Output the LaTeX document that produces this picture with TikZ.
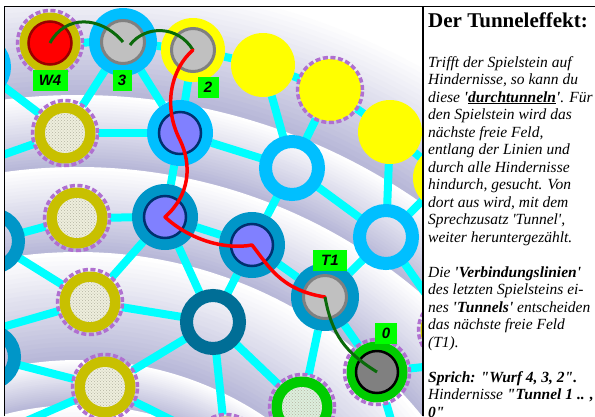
\documentclass[tikz,border=0pt]{standalone}
\usepackage{fontspec}
\setmainfont{Liberation Serif}[Ligatures=TeXOff]
\newfontfamily\labfont{Liberation Sans}
\usetikzlibrary{patterns}
\pgfdeclarelayer{back}
\pgfdeclarelayer{links}
\pgfsetlayers{back,links,main}
\definecolor{olivef}{HTML}{C8C000}
\definecolor{dashp}{HTML}{B070D0}
\definecolor{skyb}{HTML}{00BFFF}
\definecolor{midb}{HTML}{0096C8}
\definecolor{darkb}{HTML}{006E96}
\definecolor{linkc}{HTML}{00FFFF}
\definecolor{pieceg}{HTML}{C0C0C0}
\definecolor{greyb}{HTML}{808080}
\definecolor{pieceb}{HTML}{8080FF}
\definecolor{navyb}{HTML}{003070}
\definecolor{greenf}{HTML}{00CC00}
\definecolor{labg}{HTML}{00FF00}
\definecolor{pathg}{HTML}{0A6A0A}
\definecolor{lav}{HTML}{B8B8D8}
\definecolor{yel}{HTML}{FFFF00}
\definecolor{redc}{HTML}{FF0000}
\definecolor{darkredc}{HTML}{990000}
\definecolor{stipO}{HTML}{EEEEDD}
\definecolor{stipG}{HTML}{DDEEDD}
\definecolor{stipdot}{HTML}{B4B4A0}
\tikzset{
  stone/.style={circle, inner sep=0pt, outer sep=0pt},
  dashring/.style={stone, minimum size=65pt, draw=dashp, line width=3.5pt, dash pattern=on 5pt off 2.6pt},
  olivestip/.style={dashring, path picture={
     \fill[olivef] (path picture bounding box.center) circle (30.5pt);
     \fill[stipO] (path picture bounding box.center) circle (20pt);
     \fill[pattern=crosshatch dots, pattern color=stipdot] (path picture bounding box.center) circle (20pt);}},
  greenstip/.style={dashring, path picture={
     \fill[greenf] (path picture bounding box.center) circle (30.5pt);
     \fill[stipG] (path picture bounding box.center) circle (20pt);
     \fill[pattern=crosshatch dots, pattern color=stipdot] (path picture bounding box.center) circle (20pt);}},
  redstone/.style={dashring, path picture={
     \fill[olivef] (path picture bounding box.center) circle (30.5pt);
     \filldraw[fill=redc, draw=darkredc, solid, line width=2.5pt] (path picture bounding box.center) circle (21.5pt);}},
  zerostone/.style={dashring, path picture={
     \fill[greenf] (path picture bounding box.center) circle (30.5pt);
     \filldraw[fill=greyb, draw=black, solid, line width=2.5pt] (path picture bounding box.center) circle (21pt);}},
  yeldash/.style={dashring, path picture={
     \fill[yel] (path picture bounding box.center) circle (31pt);}},
  yelstone/.style={stone, minimum size=64pt, fill=yel},
  greystone/.style={stone, minimum size=68pt, fill=#1, path picture={
     \filldraw[fill=pieceg, draw=greyb, line width=3pt] (path picture bounding box.center) circle (21.5pt);}},
  purplestone/.style={stone, minimum size=66pt, fill=#1, path picture={
     \filldraw[fill=pieceb, draw=navyb, line width=2.5pt] (path picture bounding box.center) circle (21pt);}},
  hollow/.style={stone, minimum size=53pt, draw=#1, line width=13pt},
  link/.style={draw=linkc, line width=8pt},
  redpath/.style={draw=redc, line width=3.5pt, line cap=round, line join=round},
  greenpath/.style={draw=pathg, line width=3pt},
  lab/.style={fill=labg, text=black, inner sep=0pt, minimum height=21pt,
     font=\labfont\fontsize{15}{16}\selectfont\bfseries\itshape},
}
\begin{document}
\begin{tikzpicture}[x=1pt,y=-1pt]
\useasboundingbox (0,0) rectangle (595,416);
% background bands
\begin{pgfonlayer}{back}
\fill[white] (0,0) rectangle (595,416);
\begin{scope}
\clip (5,7) rectangle (423,416);
\foreach \Ro/\Ri in {720/600,600/528,528/443,443/335,335/290,290/200}{
  \foreach \j in {0,...,23}{
    \pgfmathsetmacro\rr{\Ro-(\Ro-\Ri)*\j/24}
    \pgfmathtruncatemacro\pc{100*\j/23}
    \fill[lav!\pc!white] (78,695) circle[radius=\rr pt];
  }
}
\end{scope}
\end{pgfonlayer}
% stones
\begin{scope}
\clip (5,7) rectangle (423,416);
\node[redstone] (A) at (50,43) {};
\node[greystone=skyb] (B) at (123,42) {};
\node[greystone=yel, minimum size=64pt] (C) at (193,50) {};
\node[yelstone] (D) at (263,65) {};
\node[yeldash] (E) at (330,90) {};
\node[yelstone] (F) at (390,132) {};
\node[yelstone] (G) at (445,178) {};
\node[olivestip] (H) at (65,133) {};
\node[purplestone=skyb] (I) at (180,133) {};
\node[hollow=skyb] (J) at (292,168) {};
\node[hollow=skyb] (K) at (386,237) {};
\node[olivestip] (L) at (77,218) {};
\node[purplestone=midb] (M) at (165,217) {};
\node[purplestone=midb] (N) at (252,245) {};
\node[greystone=midb] (O) at (325,297) {};
\node[hollow=darkb] (P) at (213,322) {};
\node[olivestip] (Q) at (90,302) {};
\node[olivestip] (R) at (105,387) {};
\node[zerostone] (S) at (377,372) {};
\node[greenstip] (T) at (302,407) {};
\node[olivestip] (U) at (226,447) {};
\node[olivestip] (V) at (451,330) {};
\node[hollow=midb] (W) at (-8,241) {};
\node[hollow=midb] (X) at (-12,357) {};
\node[hollow=skyb] (Y) at (-22,67) {};
\coordinate (c1) at (-40,170);
\coordinate (c2) at (-20,441);
\coordinate (c3) at (400,450);
\coordinate (c4) at (-60,345);
\coordinate (c5) at (470,362);
% paths of the play
\draw[greenpath] (A.center) .. controls (65,15) and (100,15) .. (B.center);
\draw[greenpath] ([shift={(7,3)}]B.center) .. controls (145,25) and (178,25) .. (C.center);
\draw[redpath] (C.center) .. controls (172,68) and (162,105) .. (180,140)
   .. controls (192,165) and (190,195) .. (M.center)
   .. controls (190,240) and (225,250) .. (N.center)
   .. controls (268,265) and (280,290) .. (O.center);
\draw[greenpath] (O.center) .. controls (332,335) and (345,352) .. (S.center);
% labels
\node[lab, minimum width=35pt] (lW) at (50,80) {W4};
\node[lab, minimum width=19pt] (l3) at (122,80) {3};
\node[lab, minimum width=21pt] (l2) at (208,87) {2};
\node[lab, minimum width=34pt] (lT) at (330,260) {T1};
\node[lab, minimum width=22pt] (l0) at (386,333) {0};
\end{scope}
% connections
\begin{pgfonlayer}{links}
\begin{scope}
\clip (5,7) rectangle (423,416);
\foreach \a/\b in {A/B,B/C,C/D,D/E,E/F,F/G,Y/H,H/B,H/I,B/I,C/I,I/J,D/J,E/J,J/K,F/K,G/K,J/N,
  I/M,H/c1,L/M,L/W,W/Q,M/Q,M/N,M/P,N/P,N/O,O/K,O/S,O/T,P/T,P/U,P/R,Q/P,Q/c4,X/R,R/c2,R/U,S/c3,S/c5,K/V}
  \draw[link] (\a) -- (\b);
\end{scope}
\end{pgfonlayer}
% frame
\draw[line width=1.8pt] (4.5,416) -- (4.5,6.5) -- (595,6.5);
\draw[line width=1.5pt] (423,6.5) -- (423,416);
% text panel
\node[anchor=base west, inner sep=0pt, font=\fontsize{21}{24}\selectfont\bfseries] (title) at (428,27) {Der Tunneleffekt:};
\node[anchor=base west, align=left, inner sep=0pt, font=\fontsize{15.5}{17.5}\selectfont\itshape] (body) at (428,417) {%
Trifft der Spielstein auf\\
Hindernisse, so kann du\\
diese \textbf{'\underline{durchtunneln}'}. Für\\
den Spielstein wird das\\
nächste freie Feld,\\
entlang der Linien und\\
durch alle Hindernisse\\
hindurch, gesucht. Von\\
dort aus wird, mit dem\\
Sprechzusatz 'Tunnel',\\
weiter heruntergezählt.\\[17.5pt]
Die \textbf{'Verbindungslinien'}\\
des letzten Spielsteins ei-\\
nes \textbf{'Tunnels'} entscheiden\\
das nächste freie Feld\\
(T1).\\[17.5pt]
\textbf{Sprich: "Wurf 4, 3, 2".}\\
Hindernisse \textbf{"Tunnel 1 .. ,}\\
\textbf{0"}};
\end{tikzpicture}
\end{document}
